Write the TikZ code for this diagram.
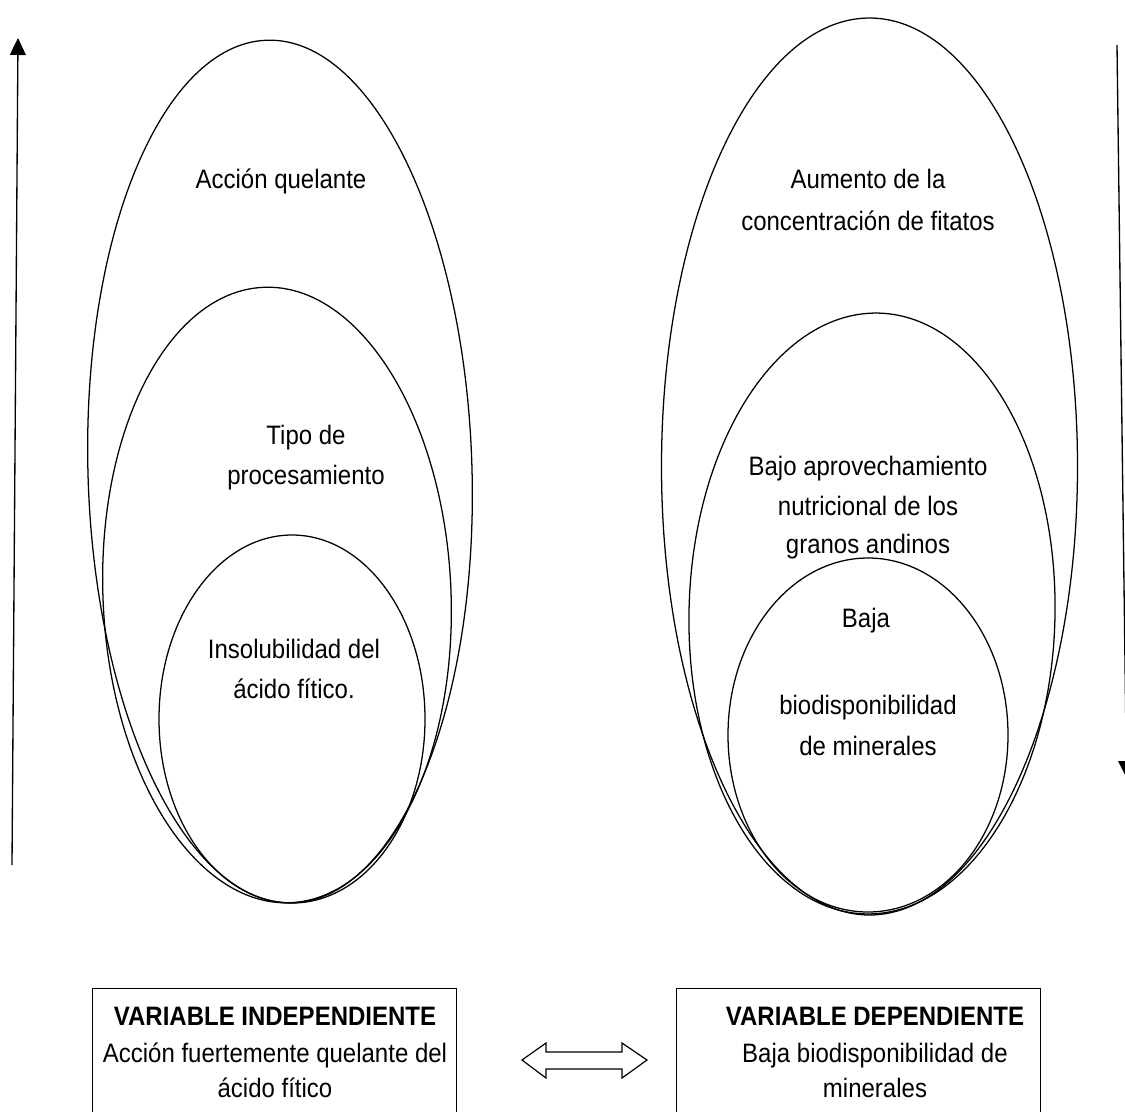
\documentclass[tikz,border=0pt]{standalone}
\usepackage{fontspec}
\setmainfont{Liberation Sans}[FakeStretch=0.9]
\usetikzlibrary{arrows.meta}
\begin{document}
\begin{tikzpicture}[x=0.75pt,y=-0.75pt,
  ell/.style={draw=black,line width=0.95pt},
  txt/.style={inner sep=0pt,anchor=base,font=\fontsize{20}{24}\selectfont},
  btxt/.style={inner sep=0pt,anchor=base,font=\fontsize{20}{24}\selectfont\bfseries},
  vbox/.style={draw=black,line width=0.9pt,inner sep=0pt,minimum width=273pt,minimum height=120pt,anchor=north west},
  arr/.style={line width=1pt,-{Triangle[width=12pt,length=12.75pt]}}]
\useasboundingbox (0,0) rectangle (1125,1111);
\clip (0,0) rectangle (1125,1111);
% left group of ellipses
\draw[ell, rotate around={1.7:(280,471.5)}] (280,471.5) ellipse [x radius=192, y radius=431.5];
\draw[ell, rotate around={2.5:(277,595)}] (277,595) ellipse [x radius=174, y radius=308];
\draw[ell] (292,719) ellipse [x radius=133, y radius=184];
% right group of ellipses
\draw[ell] (869.5,466.5) ellipse [x radius=208, y radius=448.5];
\draw[ell, rotate around={-1.2:(872,613.5)}] (872,613.5) ellipse [x radius=183, y radius=300.5];
\draw[ell] (868,735) ellipse [x radius=140, y radius=177];
% texts in ellipses
\node[txt] (t1) at (281,188) {Acción quelante};
\node[txt] (t2a) at (306,444) {Tipo de};
\node[txt] (t2b) at (306,484) {procesamiento};
\node[txt] (t3a) at (294,658) {Insolubilidad del};
\node[txt] (t3b) at (294,698) {ácido fítico.};
\node[txt] (r1a) at (868,188) {Aumento de la};
\node[txt] (r1b) at (868,230) {concentración de fitatos};
\node[txt] (r2a) at (868,475) {Bajo aprovechamiento};
\node[txt] (r2b) at (868,515) {nutricional de los};
\node[txt] (r2c) at (868,553) {granos andinos};
\node[txt] (r3a) at (866,627) {Baja};
\node[txt] (r3b) at (868,714) {biodisponibilidad};
\node[txt] (r3c) at (868,755) {de minerales};
% boxes
\node[vbox] (lbox) at (92,988) {};
\node[vbox] (rbox) at (676,988) {};
\node[btxt] (lb1) at (275,1025) {VARIABLE INDEPENDIENTE};
\node[txt] (lb2) at (275,1062) {Acción fuertemente quelante del};
\node[txt] (lb3) at (275,1097) {ácido fítico};
\node[btxt] (rb1) at (875,1025) {VARIABLE DEPENDIENTE};
\node[txt] (rb2) at (875,1062) {Baja biodisponibilidad de};
\node[txt] (rb3) at (875,1097) {minerales};
% double arrow
\draw[line width=0.9pt,line join=miter] (522,1060) -- (546,1043) -- (546,1052) -- (622,1052) -- (622,1043) -- (647,1060) -- (622,1078) -- (622,1069) -- (546,1069) -- (546,1078) -- cycle;
% vertical arrows
\coordinate (la0) at (12,865);
\coordinate (la1) at (18,38);
\draw[arr] (la0) -- (la1);
\coordinate (ra0) at (1117,45);
\coordinate (ra1) at (1126.5,778);
\draw[arr] (ra0) -- (ra1);
\end{tikzpicture}
\end{document}
